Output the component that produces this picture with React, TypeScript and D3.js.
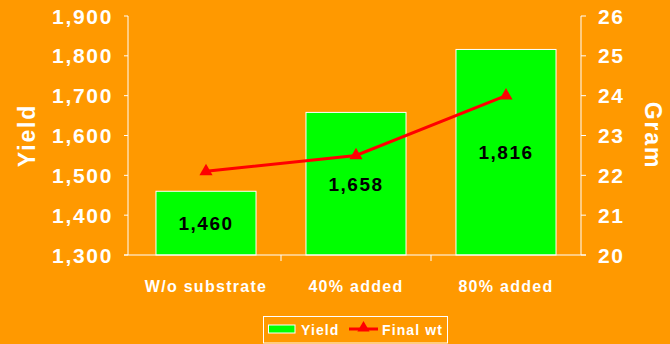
import React from "react";
import * as d3 from "d3";

const categories = ["W/o substrate", "40% added", "80% added"];
const yieldValues = [1460, 1658, 1816];
const finalWt = [22.1, 22.5, 24.0];
const leftTicks = [1300, 1400, 1500, 1600, 1700, 1800, 1900];
const rightTicks = [20, 21, 22, 23, 24, 25, 26];
const seriesNames = ["Yield", "Final wt"];

const W = 670;
const H = 344;
const BG = "#FF9900";
const GREEN = "#00FF00";
const RED = "#FF0000";
const FONT = "'Liberation Sans', Arial, sans-serif";
const LS = "0.08em";

export default function App() {
  const top = 16;
  const bottom = 255;
  const leftAxisX = 128;
  const rightAxisX = 581;

  const x = d3
    .scaleBand<string>()
    .domain(categories)
    .range([131, 581])
    .paddingInner(0.333)
    .paddingOuter(0.1665);
  const yL = d3.scaleLinear().domain([1300, 1900]).range([bottom, top]);
  const yR = d3.scaleLinear().domain([20, 26]).range([bottom, top]);

  const fmt = d3.format(",");
  const line = d3
    .line<number>()
    .x((_, i) => (x(categories[i]) as number) + x.bandwidth() / 2)
    .y((d) => yR(d));

  const tri = d3.symbol().type(d3.symbolTriangle).size(75)();
  const triLegend = d3.symbol().type(d3.symbolTriangle).size(65)();

  const step = x.step();
  const catBoundaries = categories.slice(1).map((c) => (x(c) as number) - (step - x.bandwidth()) / 2);

  return (
    <svg
      width={W}
      height={H}
      style={{ position: "absolute", left: 0, top: 0, display: "block" }}
      fontFamily={FONT}
      fontWeight="bold"
    >
      <rect x={0} y={0} width={W} height={H} fill={BG} />

      {/* bars */}
      {yieldValues.map((v, i) => {
        const bx = x(categories[i]) as number;
        return (
          <g key={"b" + i}>
            <rect
              x={bx}
              y={yL(v)}
              width={x.bandwidth()}
              height={bottom - yL(v)}
              fill={GREEN}
              stroke="#FFFFFF"
              strokeWidth={1}
            />
            <text
              x={bx + x.bandwidth() / 2}
              y={(yL(v) + bottom) / 2 + 7}
              textAnchor="middle"
              fontSize={19}
              letterSpacing={LS}
              fill="#000000"
            >
              {fmt(v)}
            </text>
          </g>
        );
      })}

      {/* axes */}
      <line x1={leftAxisX} x2={leftAxisX} y1={top} y2={bottom} stroke="#FFFFFF" strokeWidth={1} />
      <line x1={rightAxisX} x2={rightAxisX} y1={top} y2={bottom} stroke="#FFFFFF" strokeWidth={1} />
      <line x1={leftAxisX - 4} x2={rightAxisX + 5} y1={bottom} y2={bottom} stroke="#FFFFFF" strokeWidth={1} />

      {leftTicks.map((t) => (
        <g key={"lt" + t}>
          <line x1={leftAxisX - 4} x2={leftAxisX} y1={yL(t)} y2={yL(t)} stroke="#FFFFFF" />
          <text x={113} y={yL(t) + 7.5} textAnchor="end" fontSize={21} letterSpacing={LS} fill="#FFFFFF">
            {fmt(t)}
          </text>
        </g>
      ))}
      {rightTicks.map((t) => (
        <g key={"rt" + t}>
          <line x1={rightAxisX} x2={rightAxisX + 5} y1={yR(t)} y2={yR(t)} stroke="#FFFFFF" />
          <text x={598} y={yR(t) + 7.5} textAnchor="start" fontSize={21} letterSpacing={LS} fill="#FFFFFF">
            {t}
          </text>
        </g>
      ))}
      {catBoundaries.map((bx, i) => (
        <line key={"ct" + i} x1={bx} x2={bx} y1={bottom} y2={bottom + 6} stroke="#FFFFFF" />
      ))}
      {categories.map((c) => (
        <text
          key={"cl" + c}
          x={(x(c) as number) + x.bandwidth() / 2}
          y={291.5}
          textAnchor="middle"
          fontSize={16}
          letterSpacing={LS}
          fill="#FFFFFF"
        >
          {c}
        </text>
      ))}

      {/* axis titles */}
      <text
        transform={`translate(35,${(top + bottom) / 2}) rotate(-90)`}
        textAnchor="middle"
        fontSize={23}
        letterSpacing={LS}
        fill="#FFFFFF"
      >
        Yield
      </text>
      <text
        transform={`translate(645,${(top + bottom) / 2}) rotate(90)`}
        textAnchor="middle"
        fontSize={23}
        letterSpacing={LS}
        fill="#FFFFFF"
      >
        Gram
      </text>

      {/* line series */}
      <path d={line(finalWt) || ""} fill="none" stroke={RED} strokeWidth={3} />
      {finalWt.map((v, i) => (
        <path
          key={"m" + i}
          d={tri || ""}
          transform={`translate(${(x(categories[i]) as number) + x.bandwidth() / 2},${yR(v)})`}
          fill={RED}
        />
      ))}

      {/* legend */}
      <rect x={263.5} y={316.5} width={184} height={26.5} fill="none" stroke="#FFFFFF" strokeWidth={1} />
      <rect x={268.5} y={325} width={26.5} height={8} fill={GREEN} stroke="#FFFFFF" strokeWidth={1} />
      <text x={301} y={334.5} fontSize={14} letterSpacing={LS} fill="#FFFFFF">
        {seriesNames[0]}
      </text>
      <line x1={349} x2={378} y1={329} y2={329} stroke={RED} strokeWidth={3} />
      <path d={triLegend || ""} transform="translate(363.5,328)" fill={RED} />
      <text x={382} y={334.5} fontSize={14} letterSpacing={LS} fill="#FFFFFF">
        {seriesNames[1]}
      </text>
    </svg>
  );
}
